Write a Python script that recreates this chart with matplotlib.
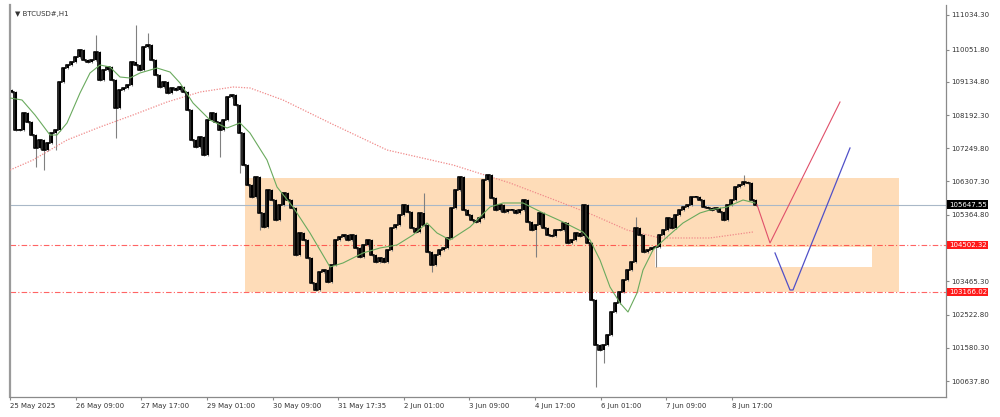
import matplotlib
matplotlib.use("Agg")
import matplotlib.pyplot as plt
import matplotlib.transforms as mtransforms
import numpy as np

# --- data (BTCUSD#, H1, 25 May - 8 Jun 2025) ---
first_open = 108900
closes = [
    108847, 107768, 107768, 108251, 107995, 107626, 107257, 107484, 107200, 107399,
    107683, 107768, 109131, 109529, 109614, 109699, 109841, 110040, 109756, 109699,
    109756, 109983, 109188, 109472, 109557, 109188, 108393, 108904, 108961, 109046,
    109699, 109614, 109472, 110125, 110182, 109756, 109330, 108989, 109131, 108819,
    108961, 108904, 108989, 108847, 108336, 107484, 107285, 107569, 107058, 108052,
    108251, 107995, 107768, 108052, 108705, 108762, 108478, 107683, 106774, 106206,
    105865, 106433, 105411, 105013, 106064, 105780, 105212, 105638, 105979, 105780,
    105553, 104218, 104843, 104644, 104133, 103423, 103224, 103735, 103792, 103451,
    103934, 104644, 104729, 104786, 104644, 104786, 104417, 104161, 104502, 104644,
    104218, 104019, 104133, 104019, 104360, 104985, 105070, 105354, 105638, 105439,
    104985, 104871, 105411, 105070, 104303, 103934, 104218, 104360, 104417, 104701,
    105553, 106064, 106433, 105496, 105354, 105212, 105155, 105269, 106348, 106490,
    105837, 105496, 105638, 105439, 105496, 105496, 105411, 105496, 105780, 105155,
    104928, 105070, 105411, 104985, 104786, 104758, 104928, 104928, 105127, 104559,
    104644, 104843, 104758, 105638, 104559, 102940, 101662, 101520, 101662, 101946,
    102599, 102855, 103167, 103508, 103792, 104019, 104985, 104786, 104303, 104360,
    104417, 104445, 104786, 104928, 105269, 104985, 105354, 105496, 105581, 105638,
    105865, 105865, 105780, 105581, 105553, 105496, 105553, 105439, 105212, 105638,
    105780, 106149, 106206, 106291, 106263, 105780, 105648,
]
# notable long wicks (bar index -> price)
wick_highs = {21: 110466, 31: 110750, 34: 110523, 103: 105979, 156: 105298, 183: 106490}
wick_lows = {6: 106717, 8: 106632, 11: 107200, 26: 107541, 52: 107001, 57: 106547,
             62: 104928, 105: 103735, 131: 104161, 146: 100469, 148: 101150, 161: 103877}

# moving averages (bar index, price)
ma_fast_x = [-0.5, 2.5, 5.75, 9.5, 11.25, 13.75, 17, 19.5, 22, 24.5, 27, 29.5, 32, 36.25,
             39.5, 42, 45.25, 49.5, 53.75, 57, 59.5, 63.75, 66.25, 70.25, 74.5, 79.5,
             82.75, 87.75, 92, 96.25, 100.25, 103.75, 106.25, 109.5, 114.5, 119.5,
             122.75, 127.75, 132.75, 137.75, 142.75, 144.5, 147, 149.5, 152, 154,
             156.25, 157.75, 160.25, 163.75, 167.75, 172, 174.5, 178.75, 182.75, 185.75]
ma_fast_y = [108677, 108620, 108194, 107626, 107626, 107967, 108819, 109387, 109614, 109557,
             109273, 109245, 109387, 109529, 109415, 109103, 108535, 108052, 107825, 107967,
             107683, 106916, 106149, 105581, 104843, 103877, 103991, 104275, 104417, 104502,
             104786, 105127, 104843, 104644, 105013, 105581, 105695, 105695, 105411, 105155,
             104871, 104644, 104076, 103309, 102855, 102599, 103139, 103792, 104360, 104729,
             105127, 105411, 105496, 105581, 105780, 105695]
ma_slow_x = [-0.5, 5.25, 13.75, 22, 30.25, 38.75, 47, 55.25, 59.5, 67.75, 79.5, 93.75,
             110.25, 124.5, 137, 145.25, 153.75, 162, 174.5, 185.25]
ma_slow_y = [106632, 106916, 107484, 107853, 108194, 108563, 108847, 108989, 108961, 108620,
             107967, 107200, 106774, 106263, 105723, 105354, 104928, 104701, 104701, 104871]

# projected paths drawn on the chart
proj_red_x = [186.25, 189.5, 207]
proj_red_y = [105648, 104559, 108563]
proj_blue_x = [190.75, 194.5, 195.25, 209.5]
proj_blue_y = [104275, 103224, 103224, 107257]

# zones and levels
zone_x = (58.25, 221.75)
zone_y = (103166.02, 106400)
gap_x = (160.75, 215)
gap_y = (103877, 104446)
current_price = 105647.55
levels = [104502.32, 103166.02]

price_ticks = [111034.30, 110051.80, 109134.80, 108192.30, 107249.80, 106307.30,
               105364.80, 103465.30, 102522.80, 101580.30, 100637.80]
time_labels = ["25 May 2025", "26 May 09:00", "27 May 17:00", "29 May 01:00", "30 May 09:00",
               "31 May 17:35", "2 Jun 01:00", "3 Jun 09:00", "4 Jun 17:00", "6 Jun 01:00",
               "7 Jun 09:00", "8 Jun 17:00"]
time_hours = [0, 32, 64, 96, 128, 160, 192, 224, 256, 288, 320, 352]

HOURS_PER_BAR = 1.95

plt.rcParams['font.family'] = ['DejaVu Sans']
fig = plt.figure(figsize=(10, 4.17), dpi=100)
ax = fig.add_axes([0.01, 0.048, 0.936, 0.94])

# zone rectangles
ax.fill_between(zone_x, zone_y[0], zone_y[1], color='#fedcb8', lw=0, zorder=1)
ax.fill_between(gap_x, gap_y[0], gap_y[1], color='white', lw=0, zorder=1.5)

# horizontal levels
ax.axhline(current_price, color='#a9b8c8', lw=0.8, zorder=2)
for lv in levels:
    ax.axhline(lv, color='#ff3030', lw=0.8, ls=(0, (5, 2, 1, 2)), alpha=0.75, zorder=2)

# candles
closes_a = np.array(closes, dtype=float)
opens_a = np.concatenate([[first_open], closes_a[:-1]])
idx = np.arange(len(closes_a))
body_lo = np.minimum(opens_a, closes_a)
body_hi = np.maximum(opens_a, closes_a)
highs = body_hi + 40
lows = body_lo - 40
for i, v in wick_highs.items():
    highs[i] = v
for i, v in wick_lows.items():
    lows[i] = v
ax.vlines(idx, lows, highs, color='#808080', lw=0.8, zorder=3)
ax.step(idx, closes_a, where='mid', color='#111111', lw=1.3, zorder=4)
heights = np.maximum(body_hi - body_lo, 30)
ax.bar(idx, heights, bottom=body_lo, width=0.5, color='black', lw=0, zorder=4)

# moving averages
ax.plot(ma_slow_x, ma_slow_y, color='#f08a8a', lw=0.9, ls=(0, (1, 1.2)), zorder=3.5)
ax.plot(ma_fast_x, ma_fast_y, color='#6aaa5e', lw=0.8, zorder=5)

# projections
ax.plot(proj_red_x, proj_red_y, color='#e0506a', lw=0.8, zorder=5)
ax.plot(proj_blue_x, proj_blue_y, color='#5050c8', lw=0.9, zorder=5)

ax.set_xlim(-0.5, 233.5)
ax.set_ylim(100185, 111318)

# axes styling
ax.spines['top'].set_visible(False)
ax.spines['left'].set_color('#9a9a9a')
ax.spines['left'].set_linewidth(1.6)
ax.spines['right'].set_color('#8a8a8a')
ax.spines['right'].set_linewidth(0.9)
ax.spines['bottom'].set_color('#8a8a8a')
ax.spines['bottom'].set_linewidth(0.9)

ax.yaxis.tick_right()
ax.set_yticks(price_ticks)
ax.set_yticklabels([f"{p:.2f}" for p in price_ticks])
ax.tick_params(axis='y', labelsize=5, length=2, pad=2, colors='#333333')
ax.tick_params(axis='y', color='#888888')

xt = [h / HOURS_PER_BAR - 0.5 for h in time_hours]
ax.set_xticks(xt)
ax.set_xticklabels(time_labels, ha='left')
ax.tick_params(axis='x', labelsize=5, length=2, pad=2, colors='#333333')
ax.tick_params(axis='x', color='#888888')

# price boxes on the right axis
tr = mtransforms.blended_transform_factory(ax.transAxes, ax.transData)
ax.text(1.003, current_price, f"{current_price:.2f}", transform=tr, fontsize=5,
        color='white', va='center', ha='left',
        bbox=dict(facecolor='black', edgecolor='none', pad=1.0), zorder=10)
for lv in levels:
    ax.text(1.003, lv, f"{lv:.2f}", transform=tr, fontsize=5, color='white',
            va='center', ha='left',
            bbox=dict(facecolor='#ff1a1a', edgecolor='none', pad=1.0), zorder=10)

# symbol label
ax.text(0.005, 0.985, "\u25bc BTCUSD#,H1", transform=ax.transAxes, fontsize=5,
        color='#333333', va='top', ha='left')

fig.savefig("out.png", dpi=100, facecolor='white')
